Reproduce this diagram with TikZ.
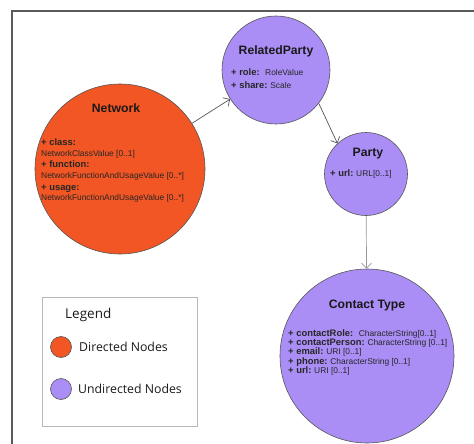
\documentclass[tikz,border=0pt]{standalone}
\usepackage{fontspec}
\setmainfont{Liberation Sans}
\newfontfamily\legfont{Open Sans}
\usetikzlibrary{arrows.meta}
\definecolor{netorange}{RGB}{241,86,36}
\definecolor{undpurple}{RGB}{170,142,246}
\definecolor{edgegray}{RGB}{85,85,85}
\definecolor{framegray}{RGB}{90,90,90}
\newcommand{\attrb}[1]{{\fontsize{9.4}{11}\selectfont\bfseries #1}}
\newcommand{\attrv}[1]{{\fontsize{8.4}{10}\selectfont #1}}
\begin{document}
\begin{tikzpicture}[x=1pt,y=-1pt,
  circnode/.style={circle,draw=edgegray,line width=0.6pt,inner sep=0pt},
  title/.style={anchor=base,font=\fontsize{12.2}{14}\selectfont\bfseries,text=black!90,inner sep=0pt},
  attr/.style={anchor=base west,inner sep=0pt,text=black!85},
  conn/.style={draw=edgegray,line width=0.7pt,-{Straight Barb[length=5pt,width=10pt]}},
  leg/.style={anchor=base west,inner sep=0pt,font=\legfont\fontsize{12.3}{14}\selectfont,text=black!90}]
\useasboundingbox (0,0) rectangle (474,444);
% frame
\draw[framegray,line width=1.1pt] (12,444) -- (12,11) -- (474,11);
% circles
\node[circnode,fill=netorange,minimum size=170pt] (net) at (120,169) {};
\node[circnode,fill=undpurple,minimum size=108pt] (rp) at (276,70) {};
\node[circnode,fill=undpurple,minimum size=83pt] (party) at (366,174) {};
\node[circnode,fill=undpurple,minimum size=174pt] (ct) at (367,356) {};
% Network text
\node[title] (nett) at (116,112.5) {Network};
\node[attr] (n1) at (41,145.5) {\attrb{+ class:}};
\node[attr] (n2) at (41,156) {\attrv{NetworkClassValue [0..1]}};
\node[attr] (n3) at (41,167.5) {\attrb{+ function:}};
\node[attr] (n4) at (41,178) {\attrv{NetworkFunctionAndUsageValue [0..*]}};
\node[attr] (n5) at (41,190) {\attrb{+ usage:}};
\node[attr] (n6) at (41,200.5) {\attrv{NetworkFunctionAndUsageValue [0..*]}};
% RelatedParty text
\node[title] (rpt) at (276,54.5) {RelatedParty};
\node[attr] (r1) at (231,75.5) {\attrb{+ role:}\ \ \attrv{RoleValue}};
\node[attr] (r2) at (231,88.5) {\attrb{+ share:}\ \attrv{Scale}};
% Party text
\node[title] (pt) at (368,156.5) {Party};
\node[attr] (p1) at (330,176.5) {\attrb{+ url:}\ \attrv{URL[0..1]}};
% Contact Type text
\node[title] (ctt) at (367,308.5) {Contact Type};
\node[attr] (c1) at (288,336.5) {\attrb{+ contactRole:}\ \ \attrv{CharacterString[0..1]}};
\node[attr] (c2) at (288,345.5) {\attrb{+ contactPerson:}\ \attrv{CharacterString [0..1]}};
\node[attr] (c3) at (288,354.5) {\attrb{+ email:}\ \attrv{URI [0..1]}};
\node[attr] (c4) at (288,364) {\attrb{+ phone:}\ \attrv{CharacterString [0..1]}};
\node[attr] (c5) at (288,373) {\attrb{+ url:}\ \attrv{URI [0..1]}};
% connectors
\draw[conn] (net) -- (rp);
\draw[conn] (rp.-38) -- (party.133);
\draw[conn,draw=black!40] (party) -- (ct);
% legend
\node[draw=black!28,line width=0.9pt,minimum width=155pt,minimum height=129pt,anchor=north west,inner sep=0pt] (legbox) at (42,297) {};
\node[leg,font=\legfont\fontsize{13.5}{15}\selectfont] (legt) at (65,318) {Legend};
\node[circnode,fill=netorange,minimum size=21pt] (legdir) at (61,347) {};
\node[leg] (legd) at (79,351.5) {Directed Nodes};
\node[circnode,fill=undpurple,minimum size=21pt] (legund) at (61,389) {};
\node[leg] (legu) at (78,393.5) {Undirected Nodes};
\end{tikzpicture}
\end{document}
